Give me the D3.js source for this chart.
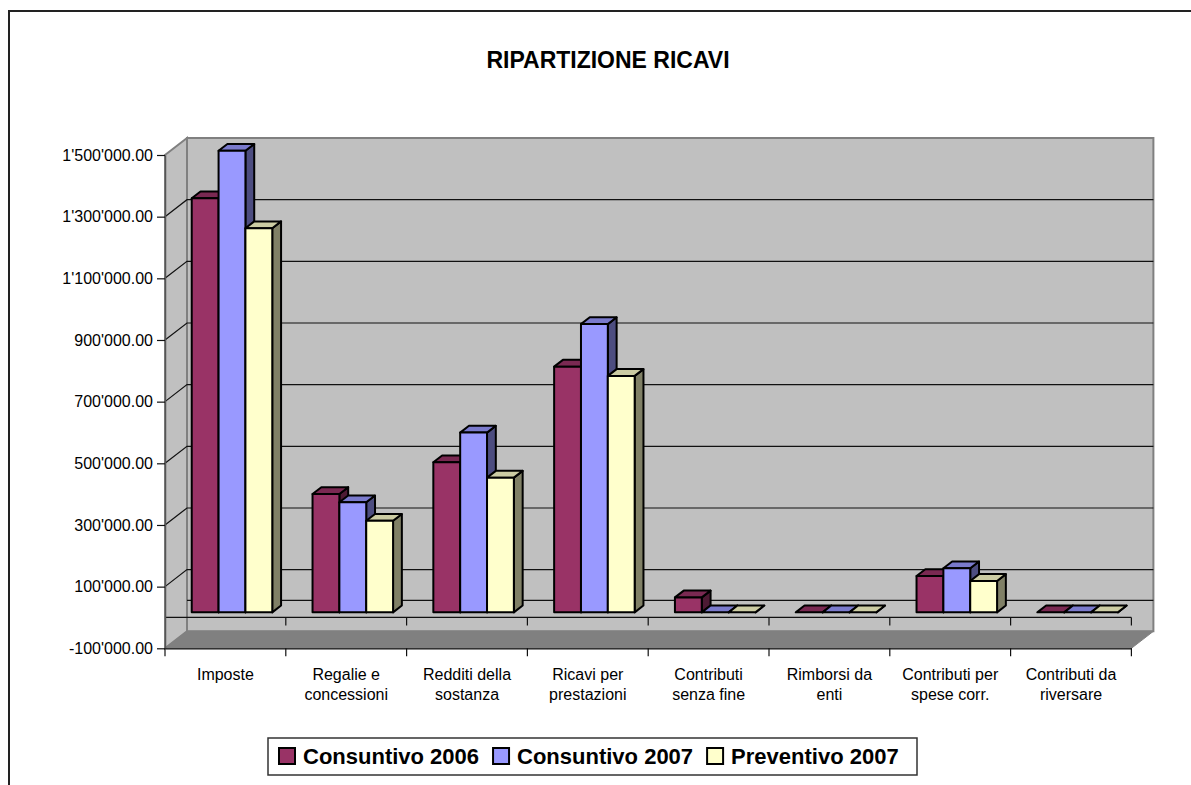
<!DOCTYPE html>
<html>
<head>
<meta charset="utf-8">
<script src="https://cdn.jsdelivr.net/npm/d3@7"></script>
<style>
  body { margin: 0; background: #fff; }
  text { font-family: "Liberation Sans", Arial, sans-serif; }
</style>
</head>
<body>
<div id="chart"></div>
<script>
var categories = [
    ["Imposte"],
    ["Regalie e", "concessioni"],
    ["Redditi della", "sostanza"],
    ["Ricavi per", "prestazioni"],
    ["Contributi", "senza fine"],
    ["Rimborsi da", "enti"],
    ["Contributi per", "spese corr."],
    ["Contributi da", "riversare"]
];
var seriesNames = ["Consuntivo 2006", "Consuntivo 2007", "Preventivo 2007"];
var consuntivo2006 = [1343000, 384000, 487000, 797000, 48600, 0, 118000, 0];
var consuntivo2007 = [1497000, 357000, 583000, 935000, 0, 0, 143000, 0];
var preventivo2007 = [1246000, 297000, 437000, 767000, 0, 0, 102000, 0];
var yTicks = [-100000, 100000, 300000, 500000, 700000, 900000, 1100000, 1300000, 1500000];

var seriesValues = [consuntivo2006, consuntivo2007, preventivo2007];
var fronts = ["#993366", "#9999FF", "#FFFFCC"];

var svgWidth = 1191;
var svgHeight = 785;

// 3D projection: depth offset of the back wall
var depthX = 22;
var depthY = -17;

var svg = d3.select("#chart")
    .append("svg")
    .attr("width", svgWidth)
    .attr("height", svgHeight);

svg.append("rect")
    .attr("x", 9).attr("y", 11)
    .attr("width", 1200).attr("height", 800)
    .attr("fill", "#fff")
    .attr("stroke", "#222")
    .attr("stroke-width", 2);

svg.append("text")
    .attr("x", 608)
    .attr("y", 68)
    .attr("text-anchor", "middle")
    .attr("font-size", 23)
    .attr("font-weight", 700)
    .text("RIPARTIZIONE RICAVI");

var xScale = d3.scaleBand()
    .domain(d3.range(categories.length))
    .range([165, 1131.4]);

var yScale = d3.scaleLinear()
    .domain([-100000, 1500000])
    .range([648.3, 155]);

var xL = xScale.range()[0], xR = xScale.range()[1];
var yTop = yScale(1500000), yBot = yScale(-100000), yZero = yScale(0);

var wallFill = "#C0C0C0", wallEdge = "#808080";

function pts(a) { return a.map(p => p.join(",")).join(" "); }

// side wall
svg.append("polygon")
    .attr("points", pts([[xL, yTop], [xL + depthX, yTop + depthY], [xL + depthX, yBot + depthY], [xL, yBot]]))
    .attr("fill", wallFill).attr("stroke", wallEdge).attr("stroke-width", 2);

// back wall
svg.append("polygon")
    .attr("points", pts([[xL + depthX, yTop + depthY], [xR + depthX, yTop + depthY], [xR + depthX, yBot + depthY], [xL + depthX, yBot + depthY]]))
    .attr("fill", wallFill).attr("stroke", wallEdge).attr("stroke-width", 2);

// floor
svg.append("polygon")
    .attr("points", pts([[xL, yBot], [xR, yBot], [xR + depthX, yBot + depthY], [xL + depthX, yBot + depthY]]))
    .attr("fill", "#808080").attr("stroke", wallEdge).attr("stroke-width", 1);

// gridlines on side and back wall
var gridVals = yTicks.filter(v => v > -100000 && v < 1500000);
svg.selectAll(".grid")
    .data(gridVals)
    .enter()
    .append("polyline")
    .attr("points", d => pts([[xL, yScale(d)], [xL + depthX, yScale(d) + depthY], [xR + depthX, yScale(d) + depthY]]))
    .attr("fill", "none")
    .attr("stroke", "#111")
    .attr("stroke-width", 1.2);

// plane at zero
svg.append("line")
    .attr("x1", xL + depthX).attr("x2", xR + depthX)
    .attr("y1", yZero + depthY).attr("y2", yZero + depthY)
    .attr("stroke", "#111").attr("stroke-width", 1.2);
svg.append("line")
    .attr("x1", xL).attr("x2", xR)
    .attr("y1", yZero).attr("y2", yZero)
    .attr("stroke", "#111").attr("stroke-width", 1.2);
svg.selectAll(".ztick")
    .data(d3.range(1, categories.length + 1))
    .enter()
    .append("line")
    .attr("x1", d => xL + d * xScale.bandwidth())
    .attr("x2", d => xL + d * xScale.bandwidth())
    .attr("y1", yZero).attr("y2", yZero + 8)
    .attr("stroke", "#111").attr("stroke-width", 1.2);

// bars
var bw = xScale.bandwidth() / 4.5;
var gapL = bw * 0.75;
var bOffX = depthX * 0.3, bOffY = depthY * 0.3;
var bDx = depthX * 0.4, bDy = depthY * 0.4;

function shade(c, k) {
    var r = d3.rgb(c);
    return d3.rgb(r.r * k, r.g * k, r.b * k).toString();
}

var bars = [];
categories.forEach(function(c, i) {
    seriesValues.forEach(function(s, j) {
        bars.push({i: i, j: j, v: s[i]});
    });
});

var barGroups = svg.selectAll(".bar")
    .data(bars)
    .enter()
    .append("g")
    .attr("class", "bar");

barGroups.each(function(d) {
    var g = d3.select(this);
    var x0 = xScale(d.i) + bOffX + gapL + d.j * bw;
    var x1 = x0 + bw;
    var yt = yScale(d.v) + bOffY;
    var yb = yZero + bOffY;
    g.append("polygon")
        .attr("points", pts([[x1, yt], [x1 + bDx, yt + bDy], [x1 + bDx, yb + bDy], [x1, yb]]))
        .attr("fill", shade(fronts[d.j], 0.5));
    g.append("polygon")
        .attr("points", pts([[x0, yt], [x1, yt], [x1 + bDx, yt + bDy], [x0 + bDx, yt + bDy]]))
        .attr("fill", shade(fronts[d.j], 0.8));
    g.append("rect")
        .attr("x", x0).attr("y", yt)
        .attr("width", bw).attr("height", yb - yt)
        .attr("fill", fronts[d.j]);
});
barGroups.selectAll("polygon, rect")
    .attr("stroke", "#000")
    .attr("stroke-width", 2)
    .attr("stroke-linejoin", "round");

// value axis
var locale = d3.formatLocale({decimal: ".", thousands: "'", grouping: [3], currency: ["", ""], minus: "-"});
var leftAxis = d3.axisLeft(yScale)
    .tickValues(yTicks)
    .tickFormat(locale.format(",.2f"))
    .tickSizeInner(8)
    .tickSizeOuter(0)
    .tickPadding(4);

var yAxisG = svg.append("g")
    .attr("transform", `translate(${xL},0)`)
    .call(leftAxis);
yAxisG.select(".domain").attr("stroke", "#555").attr("stroke-width", 1.5);
yAxisG.selectAll(".tick line").attr("stroke", "#111").attr("stroke-width", 1.2);
yAxisG.selectAll(".tick text")
    .attr("font-family", "'Liberation Sans', Arial, sans-serif")
    .attr("font-size", 16)
    .attr("fill", "#000");

// category axis
var bottomAxis = d3.axisBottom(xScale).tickSize(0).tickFormat("");
var xAxisG = svg.append("g")
    .attr("transform", `translate(0,${yBot})`)
    .call(bottomAxis);
xAxisG.select(".domain").attr("stroke", "#111").attr("stroke-width", 1.2);
svg.selectAll(".btick")
    .data(d3.range(0, categories.length + 1))
    .enter()
    .append("line")
    .attr("x1", d => xL + d * xScale.bandwidth())
    .attr("x2", d => xL + d * xScale.bandwidth())
    .attr("y1", yBot).attr("y2", yBot + 8)
    .attr("stroke", "#111").attr("stroke-width", 1.2);

var catLabels = svg.selectAll(".cat")
    .data(categories)
    .enter()
    .append("text")
    .attr("text-anchor", "middle")
    .attr("font-size", 16)
    .attr("transform", (d, i) => `translate(${xScale(i) + xScale.bandwidth() / 2},680)`);
catLabels.selectAll("tspan")
    .data(d => d)
    .enter()
    .append("tspan")
    .attr("x", 0)
    .attr("y", (d, k) => k * 20)
    .text(d => d);

// legend
var legend = svg.append("g");
legend.append("rect")
    .attr("x", 268).attr("y", 738)
    .attr("width", 649).attr("height", 37)
    .attr("fill", "#fff")
    .attr("stroke", "#333")
    .attr("stroke-width", 1.5);

var lx = 279;
seriesNames.forEach(function(name, j) {
    legend.append("rect")
        .attr("x", lx).attr("y", 748)
        .attr("width", 16).attr("height", 16)
        .attr("fill", fronts[j])
        .attr("stroke", "#000")
        .attr("stroke-width", 2);
    var t = legend.append("text")
        .attr("x", lx + 24)
        .attr("y", 764)
        .attr("font-size", 22)
        .attr("font-weight", 700)
        .text(name);
    lx += 24 + t.node().getComputedTextLength() + 14;
});
</script>
</body>
</html>
